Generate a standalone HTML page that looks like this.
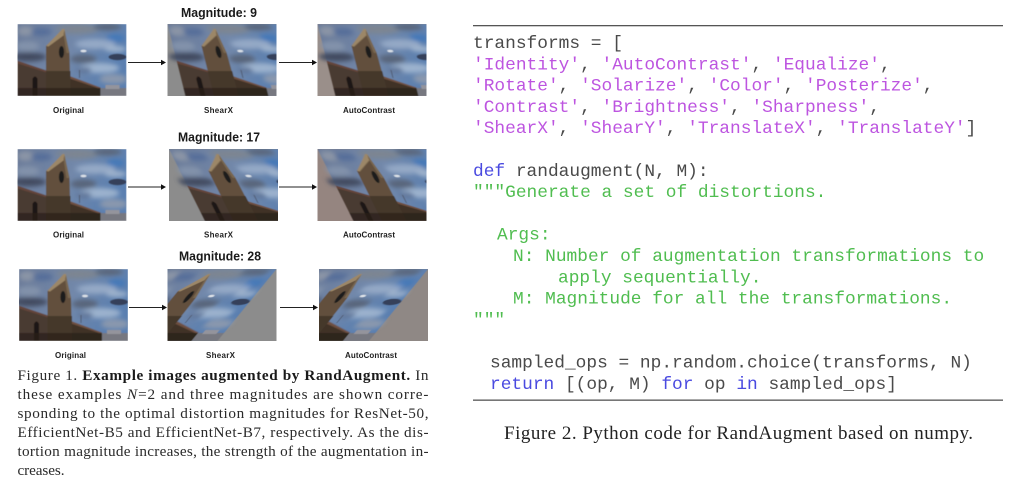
<!DOCTYPE html>
<html><head><meta charset="utf-8">
<style>
html,body{margin:0;padding:0;background:#fff}
svg.main{display:block;position:absolute;left:0;top:0}
.m{font:bold 12.5px "Liberation Sans",sans-serif;fill:#1a1a1a}
.l{font:bold 8px "Liberation Sans",sans-serif;fill:#222}
.c{font:15.2px "Liberation Serif",serif;fill:#2a2a2a}
.cb{font-weight:bold;fill:#1a1a1a}
.f{font:19px "Liberation Serif",serif;fill:#222}
.k{font:17.85px "Liberation Mono",monospace;fill:#4a4a4a;white-space:pre}
.p{fill:#bd55e0}.g{fill:#50bd50}.b{fill:#4a4ae0}
</style></head><body>
<svg class="main" width="1024" height="481" viewBox="0 0 1024 481" xmlns="http://www.w3.org/2000/svg">
<defs>
<linearGradient id="sky" x1="0" y1="0" x2="1" y2="0.3">
<stop offset="0" stop-color="#6a7a98"/><stop offset=".55" stop-color="#7288aa"/><stop offset="1" stop-color="#5a7fb0"/>
</linearGradient>
<filter id="bl" x="-5%" y="-5%" width="110%" height="110%"><feGaussianBlur stdDeviation="0.4"/></filter>
<filter id="bc" x="-30%" y="-30%" width="160%" height="160%"><feGaussianBlur stdDeviation="2.4"/></filter>
<g id="scene">
<g filter="url(#bl)">
<rect width="109" height="72" fill="url(#sky)"/>
<g filter="url(#bc)">
<ellipse cx="60" cy="5" rx="22" ry="5" fill="#7c8592"/>
<ellipse cx="90" cy="3" rx="14" ry="3.5" fill="#5a667a"/>
<ellipse cx="98" cy="14" rx="9" ry="4" fill="#4478b8"/>
<ellipse cx="8" cy="7" rx="8" ry="5" fill="#8a94a6"/>
<ellipse cx="24" cy="8" rx="10" ry="4" fill="#566e9a"/>
<ellipse cx="10" cy="22" rx="12" ry="5" fill="#8292aa"/>
<ellipse cx="78" cy="20" rx="20" ry="5" fill="#94a9c6"/>
<ellipse cx="98" cy="25" rx="11" ry="3" fill="#9fb3cd"/>
<ellipse cx="11" cy="33" rx="18" ry="4.5" fill="#434c60"/>
<ellipse cx="66" cy="35" rx="13" ry="4.5" fill="#59657a"/>
<ellipse cx="82" cy="44" rx="20" ry="5" fill="#9cb2ce"/>
<ellipse cx="96" cy="55" rx="14" ry="5" fill="#8a98ae"/>
<ellipse cx="66" cy="46" rx="8" ry="3" fill="#62779a"/>
</g>
<ellipse cx="66" cy="27" rx="3" ry="1.2" fill="#dfe4ea"/>
<ellipse cx="100" cy="33" rx="9" ry="3.2" fill="#34405a"/>
<polygon points="0,37.7 29,47.5 29,72 0,72" fill="#493a30"/>
<polygon points="0,36.7 29,46.5 29,48.5 0,39.5" fill="#63453a"/>
<polygon points="52,53 83,64 83,72 52,72" fill="#3f3228"/>
<polygon points="52,52 83,63.5 83,65 52,54.5" fill="#6e5040"/>
<polygon points="28.5,22 46,5 52,29 53,72 28.5,72" fill="#62503c"/>
<polygon points="28.5,22 45,5 47,5 48,10 31,22.5" fill="#9c8768"/>
<polygon points="47,6 52,29 49,29 46,10" fill="#786650"/>
<polygon points="28.5,47 53,47 53,72 28.5,72" fill="#44372a"/>
<ellipse cx="44" cy="28" rx="2.6" ry="6" fill="#1d1a1a"/>
<path d="M15 72V55q2.5-5 5 0v17z" fill="#1d1816"/>
<rect x="0" y="64" width="83" height="8" fill="#2a2119" opacity=".7"/>
<rect x="83" y="64" width="26" height="8" fill="#777880"/>
<rect x="88" y="61" width="14" height="4" fill="#94949c"/>
<line x1="62" y1="46" x2="62" y2="54" stroke="#4a5060" stroke-width=".8"/>
</g>
</g>
</defs>

<!-- Row 1 -->
<text class="m" x="181" y="17" textLength="76" lengthAdjust="spacingAndGlyphs">Magnitude: 9</text>
<svg x="17.5" y="24" width="109" height="72" viewBox="0 0 109 72"><use href="#scene"/></svg>
<svg x="167.5" y="24" width="109" height="72" viewBox="0 0 109 72"><rect width="109" height="72" fill="#8c8c8c"/><g transform="matrix(1,0,.25,1,0,0)"><use href="#scene"/></g></svg>
<svg x="317.5" y="24" width="109" height="72" viewBox="0 0 109 72"><rect width="109" height="72" fill="#9a8f8a"/><g transform="matrix(1,0,.25,1,0,0)"><use href="#scene"/></g></svg>
<g stroke="#222" stroke-width="1.1"><line x1="128" y1="62.5" x2="162" y2="62.5"/><line x1="279" y1="62.5" x2="313" y2="62.5"/></g>
<g fill="#111"><polygon points="161,59.8 166,62.5 161,65.2"/><polygon points="312,59.8 317,62.5 312,65.2"/></g>
<text class="l" x="53" y="113" textLength="31">Original</text>
<text class="l" x="204" y="113" textLength="29">ShearX</text>
<text class="l" x="343" y="113" textLength="52">AutoContrast</text>

<!-- Row 2 -->
<text class="m" x="178" y="141.5" textLength="82" lengthAdjust="spacingAndGlyphs">Magnitude: 17</text>
<svg x="17.5" y="149" width="109" height="72" viewBox="0 0 109 72"><use href="#scene"/></svg>
<svg x="169" y="149" width="109" height="72" viewBox="0 0 109 72"><rect width="109" height="72" fill="#8c8c8c"/><g transform="matrix(1,0,.5,1,0,0)"><use href="#scene"/></g></svg>
<svg x="317.5" y="149" width="109" height="72" viewBox="0 0 109 72"><rect width="109" height="72" fill="#958580"/><g transform="matrix(1,0,.5,1,0,0)"><use href="#scene"/></g></svg>
<g stroke="#222" stroke-width="1.1"><line x1="128" y1="187" x2="162" y2="187"/><line x1="279" y1="187" x2="313" y2="187"/></g>
<g fill="#111"><polygon points="161,184.3 166,187 161,189.7"/><polygon points="312,184.3 317,187 312,189.7"/></g>
<text class="l" x="53" y="237.5" textLength="31">Original</text>
<text class="l" x="204" y="237.5" textLength="29">ShearX</text>
<text class="l" x="343" y="237.5" textLength="52">AutoContrast</text>

<!-- Row 3 -->
<text class="m" x="179" y="260.5" textLength="82" lengthAdjust="spacingAndGlyphs">Magnitude: 28</text>
<svg x="19" y="269" width="109" height="72" viewBox="0 0 109 72"><use href="#scene"/></svg>
<svg x="167.5" y="269" width="109" height="72" viewBox="0 0 109 72"><rect width="109" height="72" fill="#8c8c8c"/><g transform="matrix(1,0,-.82,1,0,0)"><use href="#scene"/></g></svg>
<svg x="319" y="269" width="109" height="72" viewBox="0 0 109 72"><rect width="109" height="72" fill="#8f8885"/><g transform="matrix(1,0,-.82,1,0,0)"><use href="#scene"/></g></svg>
<g stroke="#222" stroke-width="1.1"><line x1="129" y1="307.5" x2="163" y2="307.5"/><line x1="280" y1="307.5" x2="314" y2="307.5"/></g>
<g fill="#111"><polygon points="162,304.8 167,307.5 162,310.2"/><polygon points="313,304.8 318,307.5 313,310.2"/></g>
<text class="l" x="55" y="358" textLength="31">Original</text>
<text class="l" x="206" y="358" textLength="29">ShearX</text>
<text class="l" x="345" y="358" textLength="52">AutoContrast</text>

<!-- Caption 1 -->
<text class="c" x="17.5" y="380" textLength="411">Figure 1. <tspan class="cb">Example images augmented by RandAugment.</tspan> In</text>
<text class="c" x="17.5" y="399" textLength="411">these examples <tspan font-style="italic">N</tspan>=2 and three magnitudes are shown corre-</text>
<text class="c" x="17.5" y="418" textLength="411">sponding to the optimal distortion magnitudes for ResNet-50,</text>
<text class="c" x="17.5" y="437" textLength="411">EfficientNet-B5 and EfficientNet-B7, respectively. As the dis-</text>
<text class="c" x="17.5" y="456" textLength="411">tortion magnitude increases, the strength of the augmentation in-</text>
<text class="c" x="17.5" y="475" textLength="47">creases.</text>

<!-- Code -->
<rect x="473" y="25" width="530" height="1.3" fill="#555"/>
<text class="k" x="473" y="48">transforms = [</text>
<text class="k" x="473" y="69.3"><tspan class="p">'Identity'</tspan>, <tspan class="p">'AutoContrast'</tspan>, <tspan class="p">'Equalize'</tspan>,</text>
<text class="k" x="473" y="90.6"><tspan class="p">'Rotate'</tspan>, <tspan class="p">'Solarize'</tspan>, <tspan class="p">'Color'</tspan>, <tspan class="p">'Posterize'</tspan>,</text>
<text class="k" x="473" y="111.9"><tspan class="p">'Contrast'</tspan>, <tspan class="p">'Brightness'</tspan>, <tspan class="p">'Sharpness'</tspan>,</text>
<text class="k" x="473" y="133.2"><tspan class="p">'ShearX'</tspan>, <tspan class="p">'ShearY'</tspan>, <tspan class="p">'TranslateX'</tspan>, <tspan class="p">'TranslateY'</tspan>]</text>
<text class="k" x="473" y="175.8"><tspan class="b">def</tspan> randaugment(N, M):</text>
<text class="k g" x="473" y="197.1">"""Generate a set of distortions.</text>
<text class="k g" x="497" y="239.7">Args:</text>
<text class="k g" x="513" y="261">N: Number of augmentation transformations to</text>
<text class="k g" x="558" y="282.3">apply sequentially.</text>
<text class="k g" x="513" y="303.6">M: Magnitude for all the transformations.</text>
<text class="k g" x="473" y="324.9">"""</text>
<text class="k" x="490" y="367.5">sampled_ops = np.random.choice(transforms, N)</text>
<text class="k" x="490" y="388.8"><tspan class="b">return</tspan> [(op, M) <tspan class="b">for</tspan> op <tspan class="b">in</tspan> sampled_ops]</text>
<rect x="473" y="399.5" width="530" height="1.3" fill="#555"/>
<text class="f" x="504" y="439" textLength="469">Figure 2. Python code for RandAugment based on numpy.</text>
</svg>
</body></html>
